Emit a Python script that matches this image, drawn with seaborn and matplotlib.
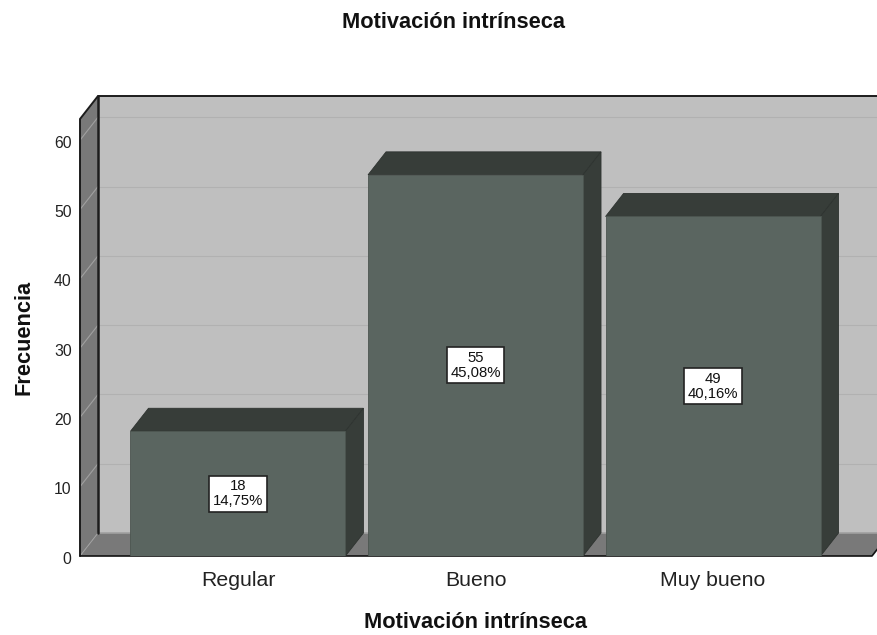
import matplotlib
matplotlib.use('Agg')
import matplotlib.pyplot as plt
from matplotlib.patches import Polygon
from matplotlib.transforms import ScaledTranslation
import pandas as pd
import seaborn as sns

categorias = ['Regular', 'Bueno', 'Muy bueno']
frecuencias = [18, 55, 49]
porcentajes = ['14,75%', '45,08%', '40,16%']
ticks_y = [0, 10, 20, 30, 40, 50, 60]

sns.set_style('white')
plt.rcParams['font.family'] = ['Liberation Sans', 'DejaVu Sans']

W, H = 878, 635
fig = plt.figure(figsize=(W / 100, H / 100), dpi=100)
# plano frontal del grafico en pixeles
izq, der, abajo, arriba = 80, 872, 556, 119
ax = fig.add_axes([izq / W, 1 - abajo / H, (der - izq) / W, (abajo - arriba) / H])

df = pd.DataFrame({'cat': categorias, 'n': frecuencias})
sns.barplot(data=df, x='cat', y='n', color='#5a6560', saturation=1, width=0.905,
            edgecolor='#4c5550', linewidth=0.6, ax=ax, zorder=5)

ax.set_xlim(-0.665, 2.669)
ax.set_ylim(0, (abajo - arriba) / 6.93)
x0, x1 = ax.get_xlim()
y0, y1 = ax.get_ylim()

# profundidad 3D, 18 px a lo ancho y 23 px a lo alto
dx = 18 * (x1 - x0) / (der - izq)
dy = 23 * (y1 - y0) / (abajo - arriba)


def poly(pts, color, z, ec='none', lw=0):
    ax.add_patch(Polygon(pts, closed=True, facecolor=color, edgecolor=ec, linewidth=lw,
                         zorder=z, clip_on=False))


# pared del fondo, pared izquierda y suelo
poly([(x0 + dx, dy), (x1 + dx, dy), (x1 + dx, y1 + dy), (x0 + dx, y1 + dy)], '#bfbfbf', 1)
poly([(x0, 0), (x0 + dx, dy), (x0 + dx, y1 + dy), (x0, y1)], '#797979', 1)
poly([(x0, 0), (x1, 0), (x1 + dx, dy), (x0 + dx, dy)], '#797979', 1)
ax.plot([x0 + dx, x1 + dx], [dy, dy], color='#a0a0a0', lw=1.2, zorder=2, clip_on=False)

# lineas de cuadricula
for t in ticks_y[1:]:
    ax.plot([x0 + dx, x1 + dx], [t + dy, t + dy], color='#b1b1b1', lw=0.8, zorder=2, clip_on=False)
    ax.plot([x0, x0 + dx], [t, t + dy], color='#a0a0a0', lw=0.8, zorder=2, clip_on=False)
ax.plot([x0, x0 + dx], [0, dy], color='#a0a0a0', lw=0.7, zorder=2, clip_on=False)

# bordes oscuros
ax.plot([x0, x0, x0 + dx, x1 + dx], [0, y1, y1 + dy, y1 + dy], color='#1c1c1c', lw=1.4, zorder=3,
        clip_on=False, solid_joinstyle='miter')
ax.plot([x0 + dx, x0 + dx], [dy, y1 + dy], color='#1c1c1c', lw=1.8, zorder=3, clip_on=False)
ax.plot([x0, x1, x1 + dx], [0, 0, dy], color='#111111', lw=1.2, zorder=3, clip_on=False)

# caras superior y lateral de cada barra
for bar, n, pct in zip(ax.patches[:3], frecuencias, porcentajes):
    a = bar.get_x()
    b = a + bar.get_width()
    h = bar.get_height()
    poly([(a, h), (b, h), (b + dx, h + dy), (a + dx, h + dy)], '#373d39', 4, '#2e3330', 0.6)
    poly([(b, 0), (b + dx, dy), (b + dx, h + dy), (b, h)], '#373d39', 4, '#2e3330', 0.6)
    ax.text(a + bar.get_width() / 2, h / 2, f'{n}\n{pct}', ha='center', va='center', fontsize=10.7,
            linespacing=1.08, color='#111111', zorder=7,
            bbox=dict(boxstyle='square,pad=0.24', facecolor='white', edgecolor='#222222', linewidth=1.2))

ax.set_yticks(ticks_y)
ax.tick_params(axis='y', length=0, pad=6, labelsize=11.3, labelcolor='#222222')
ax.tick_params(axis='x', length=0, pad=11, labelsize=15.3, labelcolor='#222222')
ax.set_xlabel('')
ax.set_ylabel('')
sns.despine(ax=ax, left=True, bottom=True)
ax.patch.set_visible(False)

# las etiquetas del eje y van un poco mas abajo que la marca
bajar = ScaledTranslation(0, -1.5 / 100, fig.dpi_scale_trans)
for lab in ax.get_yticklabels():
    lab.set_transform(lab.get_transform() + bajar)

fig.text(454 / W, 1 - 22 / H, 'Motivación intrínseca', ha='center', va='center',
         fontsize=15.7, fontweight='bold', color='#111111')
fig.text(476 / W, 1 - 622 / H, 'Motivación intrínseca', ha='center', va='center',
         fontsize=15.7, fontweight='bold', color='#111111')
fig.text(24 / W, 1 - 337 / H, 'Frecuencia', ha='center', va='center', rotation=90,
         fontsize=15.7, fontweight='bold', color='#111111')

fig.savefig('out.png', dpi=100)
